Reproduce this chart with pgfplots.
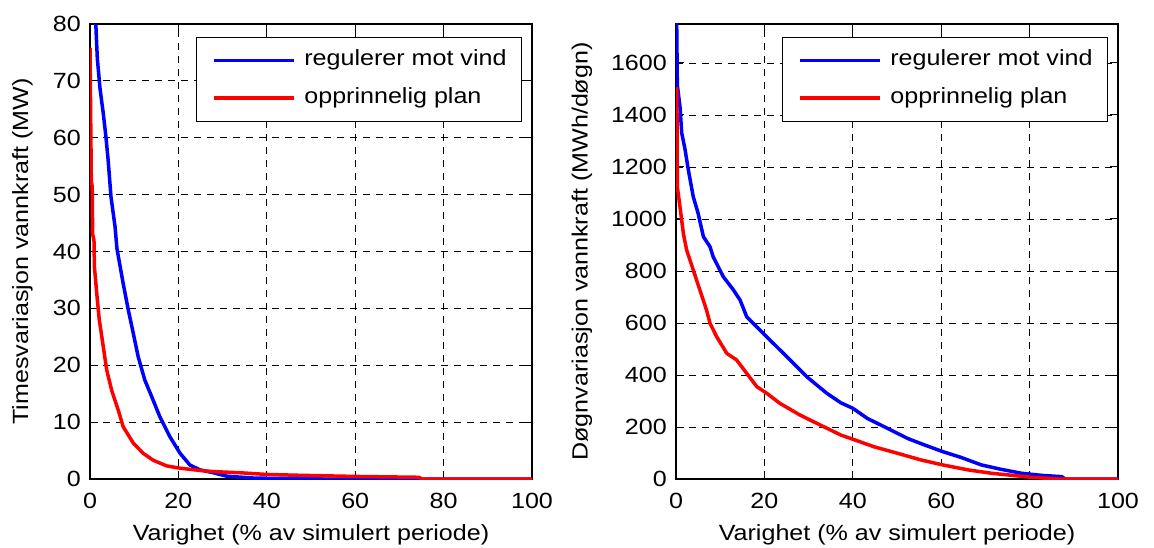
\documentclass[border=0pt]{standalone}
\usepackage{fontspec}
\setmainfont[FakeStretch=1.14]{Liberation Sans}
\usepackage{pgfplots}
\pgfplotsset{compat=1.18}

\definecolor{mblue}{RGB}{0,0,255}
\definecolor{mred}{RGB}{255,0,0}

\pgfplotsset{
  durstyle/.style={
    scale only axis,
    width=442pt, height=455pt,
    anchor=south west,
    xmin=0, xmax=100, ymin=0,
    xtick={0,20,40,60,80,100},
    tick align=inside,
    major tick length=8pt,
    axis line style={line width=1.2pt},
    every tick/.style={black, line width=1pt},
    grid=major,
    major grid style={black, line width=0.8pt, dash pattern=on 7pt off 6pt},
    /pgf/number format/assume math mode=true,
    /pgf/number format/1000 sep={},
    xticklabel style={inner sep=0pt, anchor=north, yshift=-14pt},
    yticklabel style={inner sep=0pt, anchor=east, xshift=-9pt},
    x label style={at={(axis description cs:0.5,-0.136)}, anchor=base},
    xlabel={Varighet (\% av simulert periode)},
    legend cell align=left,
    legend image code/.code={\draw[#1] (0pt,0pt) -- (80pt,0pt);},
    legend style={
      at={(0.9774,0.9714)}, anchor=north east,
      draw=black, line width=1pt,
      inner xsep=15pt, inner ysep=13pt,
      row sep=17.7pt, column sep=9pt,
      nodes={inner sep=0pt, text height=15pt, text depth=5pt},
    },
    clip=true,
  },
  blueline/.style={mblue, line width=3.5pt, line join=round},
  redline/.style={mred, line width=3.5pt, line join=round},
}

\begin{document}
\fontsize{22}{26}\selectfont
\begin{tikzpicture}
\path[use as bounding box] (0,0) rectangle (1154pt,547pt);

% Timesvariasjon
\begin{axis}[durstyle,
  at={(90pt,68pt)},
  ymax=80, ytick={0,10,...,80},
  y label style={at={(axis description cs:-0.1527,0.5)}, rotate=0, anchor=center},
  ylabel={Timesvariasjon vannkraft (MW)},
]
\addplot[blueline] coordinates {
 (0,80.4) (1.3,80.4) (1.4,78.4) (1.66,73.9) (2.26,68.7) (3.0,64.3) (3.6,60.2)
 (4.1,56.1) (4.75,49.6) (5.66,44.4) (6.1,40.5) (7.5,34.4) (8.67,29.7)
 (9.8,25.6) (10.9,21.5) (12.4,17.4) (13.95,14.5) (15.8,10.95) (18.1,7.4)
 (20.4,4.5) (22.6,2.46) (24.9,1.6) (27.9,1.1) (30.9,0.5) (37.3,0.15)
 (45,0.1) (52.8,0) (100,0)
};
\addlegendentry{regulerer mot vind}
\addplot[redline] coordinates {
 (0,75.8) (0.3,52.3) (0.5,51.5) (0.6,43) (0.9,42) (1.0,37.3) (1.66,31.5)
 (2.1,28) (3.0,23.3) (3.77,19.2) (4.9,15.6) (6.4,12.1) (7.5,9.2) (9.8,6.3)
 (12.06,4.5) (14.3,3.3) (17.35,2.3) (20.4,1.9) (24.9,1.5) (28,1.3)
 (33.9,1.1) (40,0.8) (47.5,0.65) (60,0.45) (74.5,0.3) (75,0) (100,0)
};
\addlegendentry{opprinnelig plan}
\end{axis}

% Døgnvariasjon
\begin{axis}[durstyle,
  at={(676pt,68pt)},
  ymax=1750, ytick={0,200,...,1600},
  y label style={at={(axis description cs:-0.2127,0.5)}, rotate=0, anchor=center},
  ylabel={Døgnvariasjon vannkraft (MWh/døgn)},
]
\addplot[blueline] coordinates {
 (0.1,1800) (0.15,1760) (0.3,1515) (0.9,1432) (1.3,1330) (2.0,1272)
 (2.8,1188) (3.9,1086) (5.0,1022) (6.2,932) (7.7,893) (8.4,855)
 (10.7,778) (13.0,727) (14.5,688) (16.0,624) (19.0,573) (22.0,522)
 (25.8,458) (29.6,393) (34.1,330) (37.3,293) (40,272) (43.3,233)
 (47.1,201) (52.4,156) (56.2,131) (60.4,105) (64.5,83) (69.1,54)
 (73.6,37) (78.2,22) (82.7,14) (87.3,9) (88,0) (100,0)
};
\addlegendentry{regulerer mot vind}
\addplot[redline] coordinates {
 (0.1,1506) (0.2,1500) (0.3,1124) (0.9,1047) (1.66,945) (2.4,881)
 (3.9,804) (5.4,727) (6.9,650) (7.7,599) (9.2,547) (11.5,483)
 (13.7,458) (16.0,406) (18.3,355) (20.5,330) (23.5,291) (28.05,246)
 (32.6,208) (37.3,169) (40,153) (44.8,124) (50.1,99) (55.5,73)
 (60.4,54) (66.1,35) (71.4,22) (76.7,13) (80.5,6.5) (86.5,0) (100,0)
};
\addlegendentry{opprinnelig plan}
\end{axis}
\end{tikzpicture}
\end{document}
